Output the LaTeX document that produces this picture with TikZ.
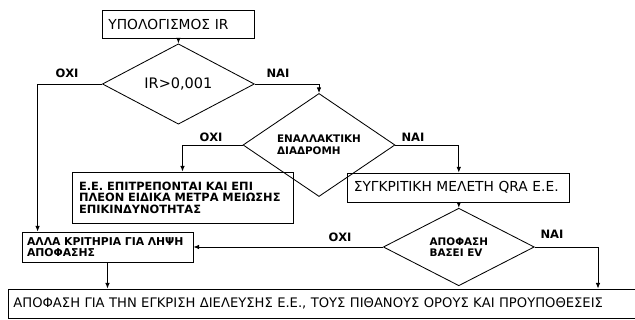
\documentclass[tikz,border=0pt]{standalone}
\usepackage{fontspec}
\setmainfont{DejaVu Sans}
\usepackage{tikz}
\usetikzlibrary{shapes.geometric}
\usetikzlibrary{arrows.meta}

\begin{document}
\begin{tikzpicture}[>={Latex[length=4pt,width=3.2pt]}, line width=0.6pt]

    \tikzstyle{stepbox} = [draw, rectangle, inner xsep=0.15cm, align=left, font=\fontsize{9.8}{11}\selectfont]
    \tikzstyle{notebox} = [draw, rectangle, inner xsep=0.15cm, align=left, font=\fontsize{8.1}{8.1}\selectfont\bfseries]
    \tikzstyle{cond} = [draw, diamond, inner sep=0pt, minimum width=3.8cm, minimum height=1.825cm, align=left, font=\fontsize{7.4}{8.2}\selectfont\bfseries]
    \tikzstyle{answer} = [font=\fontsize{8.2}{9}\selectfont\bfseries]

    % Frame
    \clip[use as bounding box] (0,0) rectangle (15.875,8);

    % Nodes
    \node[stepbox, text width=3.5cm, minimum height=0.7cm] at (4.46,7.4) (calc) {ΥΠΟΛΟΓΙΣΜΟΣ IR};
    \node[cond, font=\fontsize{10.3}{11}\selectfont] at (4.46,5.9) (thr) {IR>0,001};
    \node[cond] at (7.975,4.375) (route) {ΕΝΑΛΛΑΚΤΙΚΗ\\ΔΙΑΔΡΟΜΗ};
    \node[notebox, inner xsep=0.175cm, text width=5.175cm, minimum height=1.275cm] at (4.5625,3.0625) (meas)
    {Ε.Ε. ΕΠΙΤΡΕΠΟΝΤΑΙ ΚΑΙ ΕΠΙ\\ΠΛΕΟΝ ΕΙΔΙΚΑ ΜΕΤΡΑ ΜΕΙΩΣΗΣ\\ΕΠΙΚΙΝΔΥΝΟΤΗΤΑΣ};
    \node[stepbox, text width=5.25cm, minimum height=0.725cm] at (11.47,3.3125) (qra) {ΣΥΓΚΡΙΤΙΚΗ ΜΕΛΕΤΗ QRA Ε.Ε.};
    \node[cond, minimum width=3.775cm, minimum height=1.75cm] at (11.47,1.825) (ev) {ΑΠΟΦΑΣΗ\\ΒΑΣΕΙ EV};
    \node[notebox, inner xsep=0.125cm, text width=4.025cm, minimum height=0.75cm, font=\fontsize{7.7}{8.1}\selectfont\bfseries] at (2.6875,1.825) (other)
    {ΑΛΛΑ ΚΡΙΤΗΡΙΑ ΓΙΑ ΛΗΨΗ\\ΑΠΟΦΑΣΗΣ};
    \node[stepbox, anchor=west, inner xsep=0.125cm, text width=15.75cm, minimum height=0.725cm, font=\fontsize{9.35}{10}\selectfont] at (0.2,0.4125) (final)
    {ΑΠΟΦΑΣΗ ΓΙΑ ΤΗΝ ΕΓΚΡΙΣΗ ΔΙΕΛΕΥΣΗΣ Ε.Ε., ΤΟΥΣ ΠΙΘΑΝΟΥΣ ΟΡΟΥΣ ΚΑΙ ΠΡΟΥΠΟΘΕΣΕΙΣ};

    % Arrows
    \draw[->] (calc) -- (thr);
    \draw[->] (thr.west) -| ([xshift=0.4cm]other.north west);
    \draw[->] (thr.east) -| (route.north);
    \draw[->] (route.west) -| (meas.north);
    \draw[->] (route.east) -| (qra.north);
    \draw[->] (qra) -- (ev);
    \draw[->] (ev.west) -- (other.east);
    \draw[->] (ev.east) -| ([xshift=14.75cm]final.north west);
    \draw[->] (other.south) -- (other.south |- final.north);

    % Labels
    \node[answer] at (1.675,6.175) (no1) {ΟΧΙ};
    \node[answer] at (6.95,6.175) (yes1) {ΝΑΙ};
    \node[answer] at (5.275,4.575) (no2) {ΟΧΙ};
    \node[answer] at (10.325,4.575) (yes2) {ΝΑΙ};
    \node[answer] at (8.5,2.075) (no3) {ΟΧΙ};
    \node[answer] at (13.8,2.15) (yes3) {ΝΑΙ};

\end{tikzpicture}
\end{document}
